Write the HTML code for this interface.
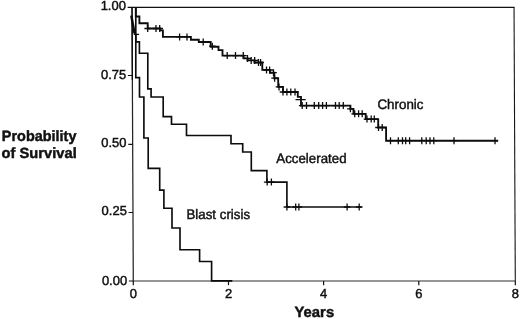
<!DOCTYPE html>
<html lang="en">
<head>
<meta charset="utf-8">
<title>Probability of Survival</title>
<style>
html,body{margin:0;padding:0;background:#fff;}
body{width:520px;height:319px;overflow:hidden;}
svg{display:block;will-change:transform;opacity:0.999;}
text{font-family:"Liberation Sans",Arial,Helvetica,sans-serif;fill:#111;stroke:#111;stroke-width:0.45px;}
.lab text{font-size:13px;}
.lab text.c{font-size:13.7px;}
.b{font-weight:bold;font-size:14.8px;}
</style>
</head>
<body>
<svg width="520" height="319" viewBox="0 0 520 319">
<rect width="520" height="319" fill="#fff"/>
<g transform="matrix(1 0 0.0046 1 0 0)">
<g fill="none">
<path d="M131.5 7.35H514.5" stroke="#101010" stroke-width="1.15"/>
<path d="M132.0 7.35V281.0" stroke="#262626" stroke-width="1.25"/>
<path d="M514.0 7.35V281.0" stroke="#161616" stroke-width="1.1"/>
<path d="M131.5 281.0H514.5" stroke="#2e2e2e" stroke-width="1.2"/>
</g>
<path d="M127.6 7.35H132.0 M127.6 75.5H132.0 M127.6 144.3H132.0 M127.6 212.5H132.0 M127.6 281.0H132.0 M132.0 281.0V285.2 M227.2 281.0V285.2 M322.3 281.0V285.2 M417.5 281.0V285.2 M514.0 281.0V285.2" fill="none" stroke="#111" stroke-width="1.2"/>
<g class="lab">
<text x="125.9" y="10.40" text-anchor="end">1.00</text>
<text x="125.9" y="79.20" text-anchor="end">0.75</text>
<text x="125.9" y="147.15" text-anchor="end">0.50</text>
<text x="125.9" y="215.45" text-anchor="end">0.25</text>
<text x="125.9" y="284.60" text-anchor="end">0.00</text>
<text x="132.0" y="297.6" text-anchor="middle">0</text>
<text x="227.2" y="297.6" text-anchor="middle">2</text>
<text x="322.3" y="297.6" text-anchor="middle">4</text>
<text x="417.5" y="297.6" text-anchor="middle">6</text>
<text x="514.0" y="297.6" text-anchor="middle">8</text>
<text class="c" x="376.9" y="109.4" textLength="46.1" lengthAdjust="spacingAndGlyphs">Chronic</text>
<text class="c" x="275.5" y="163.5" textLength="70.3" lengthAdjust="spacingAndGlyphs">Accelerated</text>
<text class="c" x="185.4" y="218.6" textLength="63.7" lengthAdjust="spacingAndGlyphs">Blast crisis</text>
</g>
<text class="b" x="1.2" y="141" textLength="74.6" lengthAdjust="spacingAndGlyphs">Probability</text>
<text class="b" x="0.8" y="158.3" textLength="75.2" lengthAdjust="spacingAndGlyphs">of Survival</text>
<text class="b" x="293" y="317.2" textLength="39.7" lengthAdjust="spacingAndGlyphs">Years</text>
<g fill="none" stroke="#0c0c0c" stroke-width="1.65" stroke-linejoin="miter">
<path d="M135.77 7.00 L135.72 16.50 L139.32 16.50 L139.29 23.20 L147.59 23.20 L147.57 28.50 L160.07 28.50 L160.06 30.40 L162.76 30.40 L162.73 36.90 L190.73 36.90 L190.72 39.70 L198.62 39.70 L198.61 42.00 L210.51 42.00 L210.49 46.70 L218.29 46.70 L218.27 50.10 L222.27 50.10 L222.24 55.60 L243.34 55.60 L243.33 58.40 L247.23 58.40 L247.22 60.40 L254.12 60.40 L254.11 62.50 L262.01 62.50 L261.98 69.80 L269.68 69.80 L269.67 72.70 L273.97 72.70 L273.94 78.20 L277.84 78.20 L277.80 86.90 L282.60 86.90 L282.58 92.00 L297.38 92.00 L297.35 96.80 L300.55 96.80 L300.51 105.60 L349.91 105.60 L349.90 108.80 L353.00 108.80 L352.98 113.80 L365.18 113.80 L365.15 119.10 L377.65 119.10 L377.61 127.50 L385.51 127.50 L385.45 140.70 L497.35 140.70" stroke-width="1.85"/>
<path d="M134.45 33.00 L135.64 34.60 L135.61 41.80 L139.21 41.80 L139.16 53.20 L147.56 53.20 L147.39 88.80 L150.69 88.80 L150.65 97.00 L162.75 97.00 L162.66 116.60 L170.96 116.60 L170.93 124.20 L185.93 124.20 L185.88 135.50 L230.38 135.50 L230.34 143.70 L242.04 143.70 L242.00 152.00 L250.60 152.00 L250.52 170.60 L266.12 170.60 L266.06 182.10 L286.06 182.10 L285.95 207.00 L360.75 207.00"/>
<path d="M135.77 7.00 L135.44 77.60 L139.14 77.60 L139.05 97.00 L143.45 97.00 L143.27 138.00 L147.57 138.00 L147.43 168.40 L158.93 168.40 L158.83 190.10 L163.03 190.10 L162.94 208.20 L171.04 208.20 L170.95 228.00 L178.95 228.00 L178.85 249.70 L198.45 249.70 L198.40 261.50 L210.40 261.50 L210.31 280.90 L231.01 280.90"/>
<path d="M131.25 15.6L134.3 33.2" stroke-width="2.5"/>
<path d="M132 7.35V80" stroke-width="1.3"/>
</g>
<path d="M147.57 25.00V32.00M144.27 28.50H150.87 M155.87 25.00V32.00M152.57 28.50H159.17 M159.57 25.00V32.00M156.27 28.50H162.87 M179.43 33.40V40.40M176.13 36.90H182.73 M186.83 33.40V40.40M183.53 36.90H190.13 M203.01 38.50V45.50M199.71 42.00H206.31 M212.09 42.70V49.70M208.79 46.20H215.39 M226.94 52.10V59.10M223.64 55.60H230.24 M235.24 52.10V59.10M231.94 55.60H238.54 M243.04 52.10V59.10M239.74 55.60H246.34 M247.23 54.90V61.90M243.93 58.40H250.53 M250.92 56.90V63.90M247.62 60.40H254.22 M254.42 56.90V63.90M251.12 60.40H257.72 M258.21 59.00V66.00M254.91 62.50H261.51 M260.31 59.00V66.00M257.01 62.50H263.61 M266.18 66.50V73.50M262.88 70.00H269.48 M269.28 66.50V73.50M265.98 70.00H272.58 M273.17 69.20V76.20M269.87 72.70H276.47 M274.24 74.70V81.70M270.94 78.20H277.54 M278.60 83.40V90.40M275.30 86.90H281.90 M282.58 88.50V95.50M279.28 92.00H285.88 M286.48 88.50V95.50M283.18 92.00H289.78 M290.38 88.50V95.50M287.08 92.00H293.68 M294.58 88.50V95.50M291.28 92.00H297.88 M301.71 102.10V109.10M298.41 105.60H305.01 M306.01 102.10V109.10M302.71 105.60H309.31 M313.81 102.10V109.10M310.51 105.60H317.11 M318.21 102.10V109.10M314.91 105.60H321.51 M322.11 102.10V109.10M318.81 105.60H325.41 M325.91 102.10V109.10M322.61 105.60H329.21 M335.01 102.10V109.10M331.71 105.60H338.31 M338.71 102.10V109.10M335.41 105.60H342.01 M342.81 102.10V109.10M339.51 105.60H346.11 M349.90 105.30V112.30M346.60 108.80H353.20 M354.18 110.30V117.30M350.88 113.80H357.48 M358.08 110.30V117.30M354.78 113.80H361.38 M361.68 110.30V117.30M358.38 113.80H364.98 M366.45 115.60V122.60M363.15 119.10H369.75 M370.65 115.60V122.60M367.35 119.10H373.95 M373.75 115.60V122.60M370.45 119.10H377.05 M377.91 124.00V131.00M374.61 127.50H381.21 M381.61 124.00V131.00M378.31 127.50H384.91 M389.85 137.20V144.20M386.55 140.70H393.15 M397.65 137.20V144.20M394.35 140.70H400.95 M401.85 137.20V144.20M398.55 140.70H405.15 M405.05 137.20V144.20M401.75 140.70H408.35 M408.95 137.20V144.20M405.65 140.70H412.25 M421.15 137.20V144.20M417.85 140.70H424.45 M425.55 137.20V144.20M422.25 140.70H428.85 M429.35 137.20V144.20M426.05 140.70H432.65 M433.15 137.20V144.20M429.85 140.70H436.45 M453.35 137.20V144.20M450.05 140.70H456.65 M494.35 137.20V144.20M491.05 140.70H497.65 M266.36 178.60V185.60M263.06 182.10H269.66 M270.56 178.60V185.60M267.26 182.10H273.86 M285.95 203.50V210.50M282.65 207.00H289.25 M294.75 203.50V210.50M291.45 207.00H298.05 M297.95 203.50V210.50M294.65 207.00H301.25 M346.15 203.50V210.50M342.85 207.00H349.45 M358.25 203.50V210.50M354.95 207.00H361.55 M133.64 34.4H138.94 M295.04 99.6H305.24" fill="none" stroke="#0c0c0c" stroke-width="1.3"/>
</g>
</svg>
</body>
</html>
